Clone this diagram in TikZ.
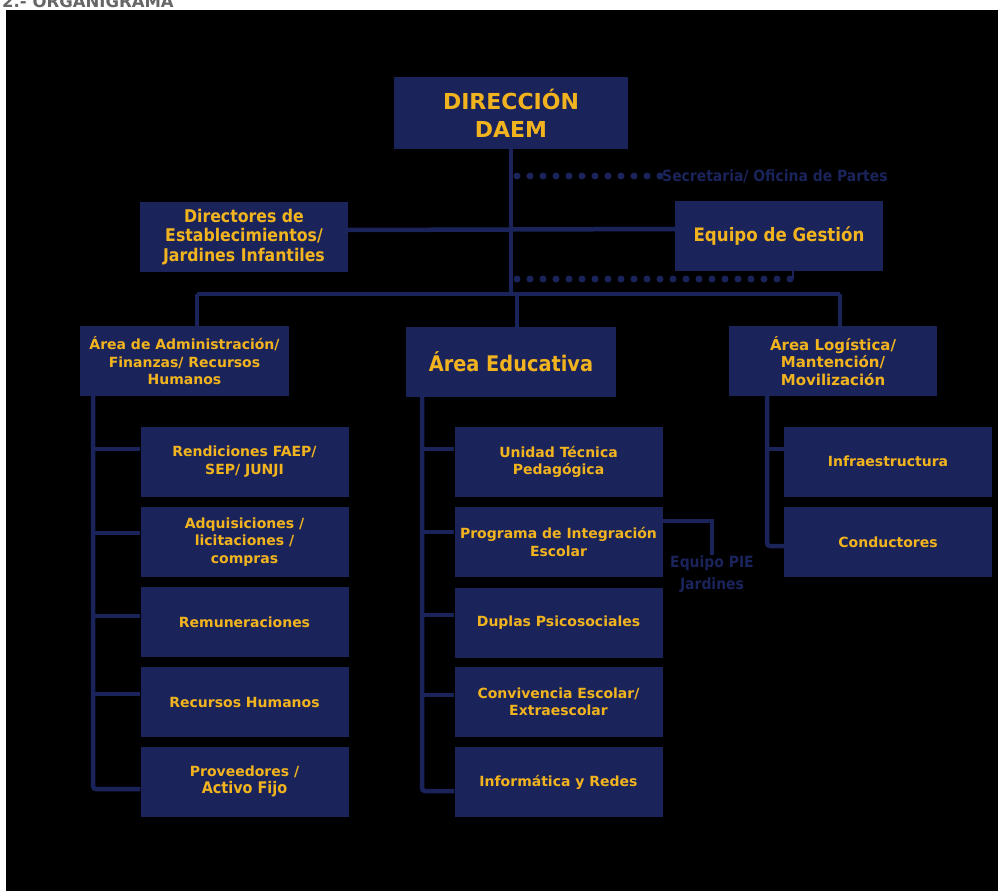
\documentclass[tikz,border=0pt]{standalone}
\usepackage{fontspec}
\setmainfont{DejaVu Sans}
\newfontfamily\condfont{DejaVu Sans Condensed}
\usepackage{tikz}
\definecolor{navy}{RGB}{27,36,90}
\definecolor{gold}{RGB}{242,180,30}

\begin{document}
\begin{tikzpicture}[x=1pt, y=-1pt,
  box/.style={fill=navy, text=gold, font=\bfseries\fontsize{14}{17.5}\selectfont, align=center,
    minimum width=208pt, minimum height=70pt, inner sep=0pt},
  link/.style={draw=navy, line width=4.5pt},
  dots/.style={draw=navy, line width=7pt, line cap=round, dash pattern=on 0pt off 13pt},
  note/.style={text=navy, font=\condfont\bfseries\fontsize{15.5}{22}\selectfont, align=center, inner sep=0pt}]
  \useasboundingbox (0,0) rectangle (998,891);
  \fill[white] (0,0) rectangle (998,891);
  \fill[black] (6,10) rectangle (998,891);
  \node[anchor=base west, inner sep=0pt, text=black!60, font=\bfseries\fontsize{16.5}{16.5}\selectfont] (title) at (2,7.5) {2.- ORGANIGRAMA};

  \node[box, minimum width=234pt, minimum height=72pt, font=\bfseries\fontsize{22}{28}\selectfont] (dir) at (511,113) {DIRECCIÓN\\DAEM};
  \node[note, anchor=west] (secre) at (662,176) {Secretaria/ Oficina de Partes};
  \node[box, font=\condfont\bfseries\fontsize{17.5}{19.5}\selectfont] (dirjar) at (244,237) {Directores de\\Establecimientos/\\Jardines Infantiles};
  \node[box, font=\condfont\bfseries\fontsize{18.5}{22}\selectfont] (gestion) at (779,236) {Equipo de Gestión};

  \node[box, minimum width=209pt] (admin) at (184.5,361) {Área de Administración/\\Finanzas/ Recursos\\Humanos};
  \node[box, minimum width=210pt, font=\condfont\bfseries\fontsize{21.5}{24}\selectfont] (educ) at (511,362) {Área Educativa};
  \node[box, font=\bfseries\fontsize{15}{17.5}\selectfont] (logis) at (833,361) {Área Logística/\\Mantención/\\Movilización};

  \node[box] (rend) at (244.5,461.5) {Rendiciones FAEP/\\SEP/ JUNJI};
  \node[box] (adq) at (244.5,542) {Adquisiciones /\\licitaciones /\\compras};
  \node[box] (remu) at (244.5,622) {Remuneraciones};
  \node[box] (rrhh) at (244.5,702) {Recursos Humanos};
  \node[box] (prov) at (244.5,781.5) {Proveedores /\\{\condfont\fontsize{16}{18}\selectfont Activo Fijo}};

  \node[box] (utp) at (558.5,462) {Unidad Técnica\\Pedagógica};
  \node[box] (pie) at (558.5,542) {Programa de Integración\\Escolar};
  \node[box] (duplas) at (558.5,622.5) {Duplas Psicosociales};
  \node[box] (conviv) at (558.5,702) {Convivencia Escolar/\\Extraescolar};
  \node[box] (info) at (558.5,782) {Informática y Redes};
  \node[note] (piejar) at (712,574) {Equipo PIE\\Jardines};

  \node[box] (infra) at (888,461.5) {Infraestructura};
  \node[box] (cond) at (888,542) {Conductores};

  \coordinate (busL) at (197,294);
  \coordinate (busM) at (517,294);
  \coordinate (busR) at (840,294);
  \coordinate (gdot) at (793,279);
  \draw[link] (dir.south) -- (dir.south |- busM);
  \draw[link] ([yshift=7pt]dirjar.east) -- ([yshift=7pt]gestion.west);
  \draw[dots] (dir.south |- secre.west) ++(6,0) -- (secre.west);
  \draw[dots] (dir.south |- gdot) ++(6,0) -- (gdot);
  \draw[navy, line width=2.5pt] (gdot) -- (gdot |- gestion.south);
  \draw[link] (busL) -- (busR);
  \draw[link] (busL) -- (busL |- admin.north);
  \draw[link] (busM) -- (busM |- educ.north);
  \draw[link] (busR) -- (busR |- logis.north);

  \draw[link, rounded corners=3pt] (93,0 |- admin.south) -- (93,789) -- (prov.west |- 93,789);
  \foreach \b/\y in {rend/449, adq/533, remu/616, rrhh/694}
    \draw[link] (93,\y) -- (\b.west |- 93,\y);
  \draw[link, rounded corners=3pt] (422,0 |- educ.south) -- (422,791) -- (info.west |- 422,791);
  \foreach \b/\y in {utp/449, pie/532, duplas/615, conviv/695}
    \draw[link] (422,\y) -- (\b.west |- 422,\y);
  \draw[link, rounded corners=3pt] (767,0 |- logis.south) -- (767,546) -- (cond.west |- 767,546);
  \draw[link] (767,449) -- (infra.west |- 767,449);
  \draw[navy, line width=3.5pt] ([yshift=21pt]pie.east) -| (piejar.north);
\end{tikzpicture}
\end{document}
